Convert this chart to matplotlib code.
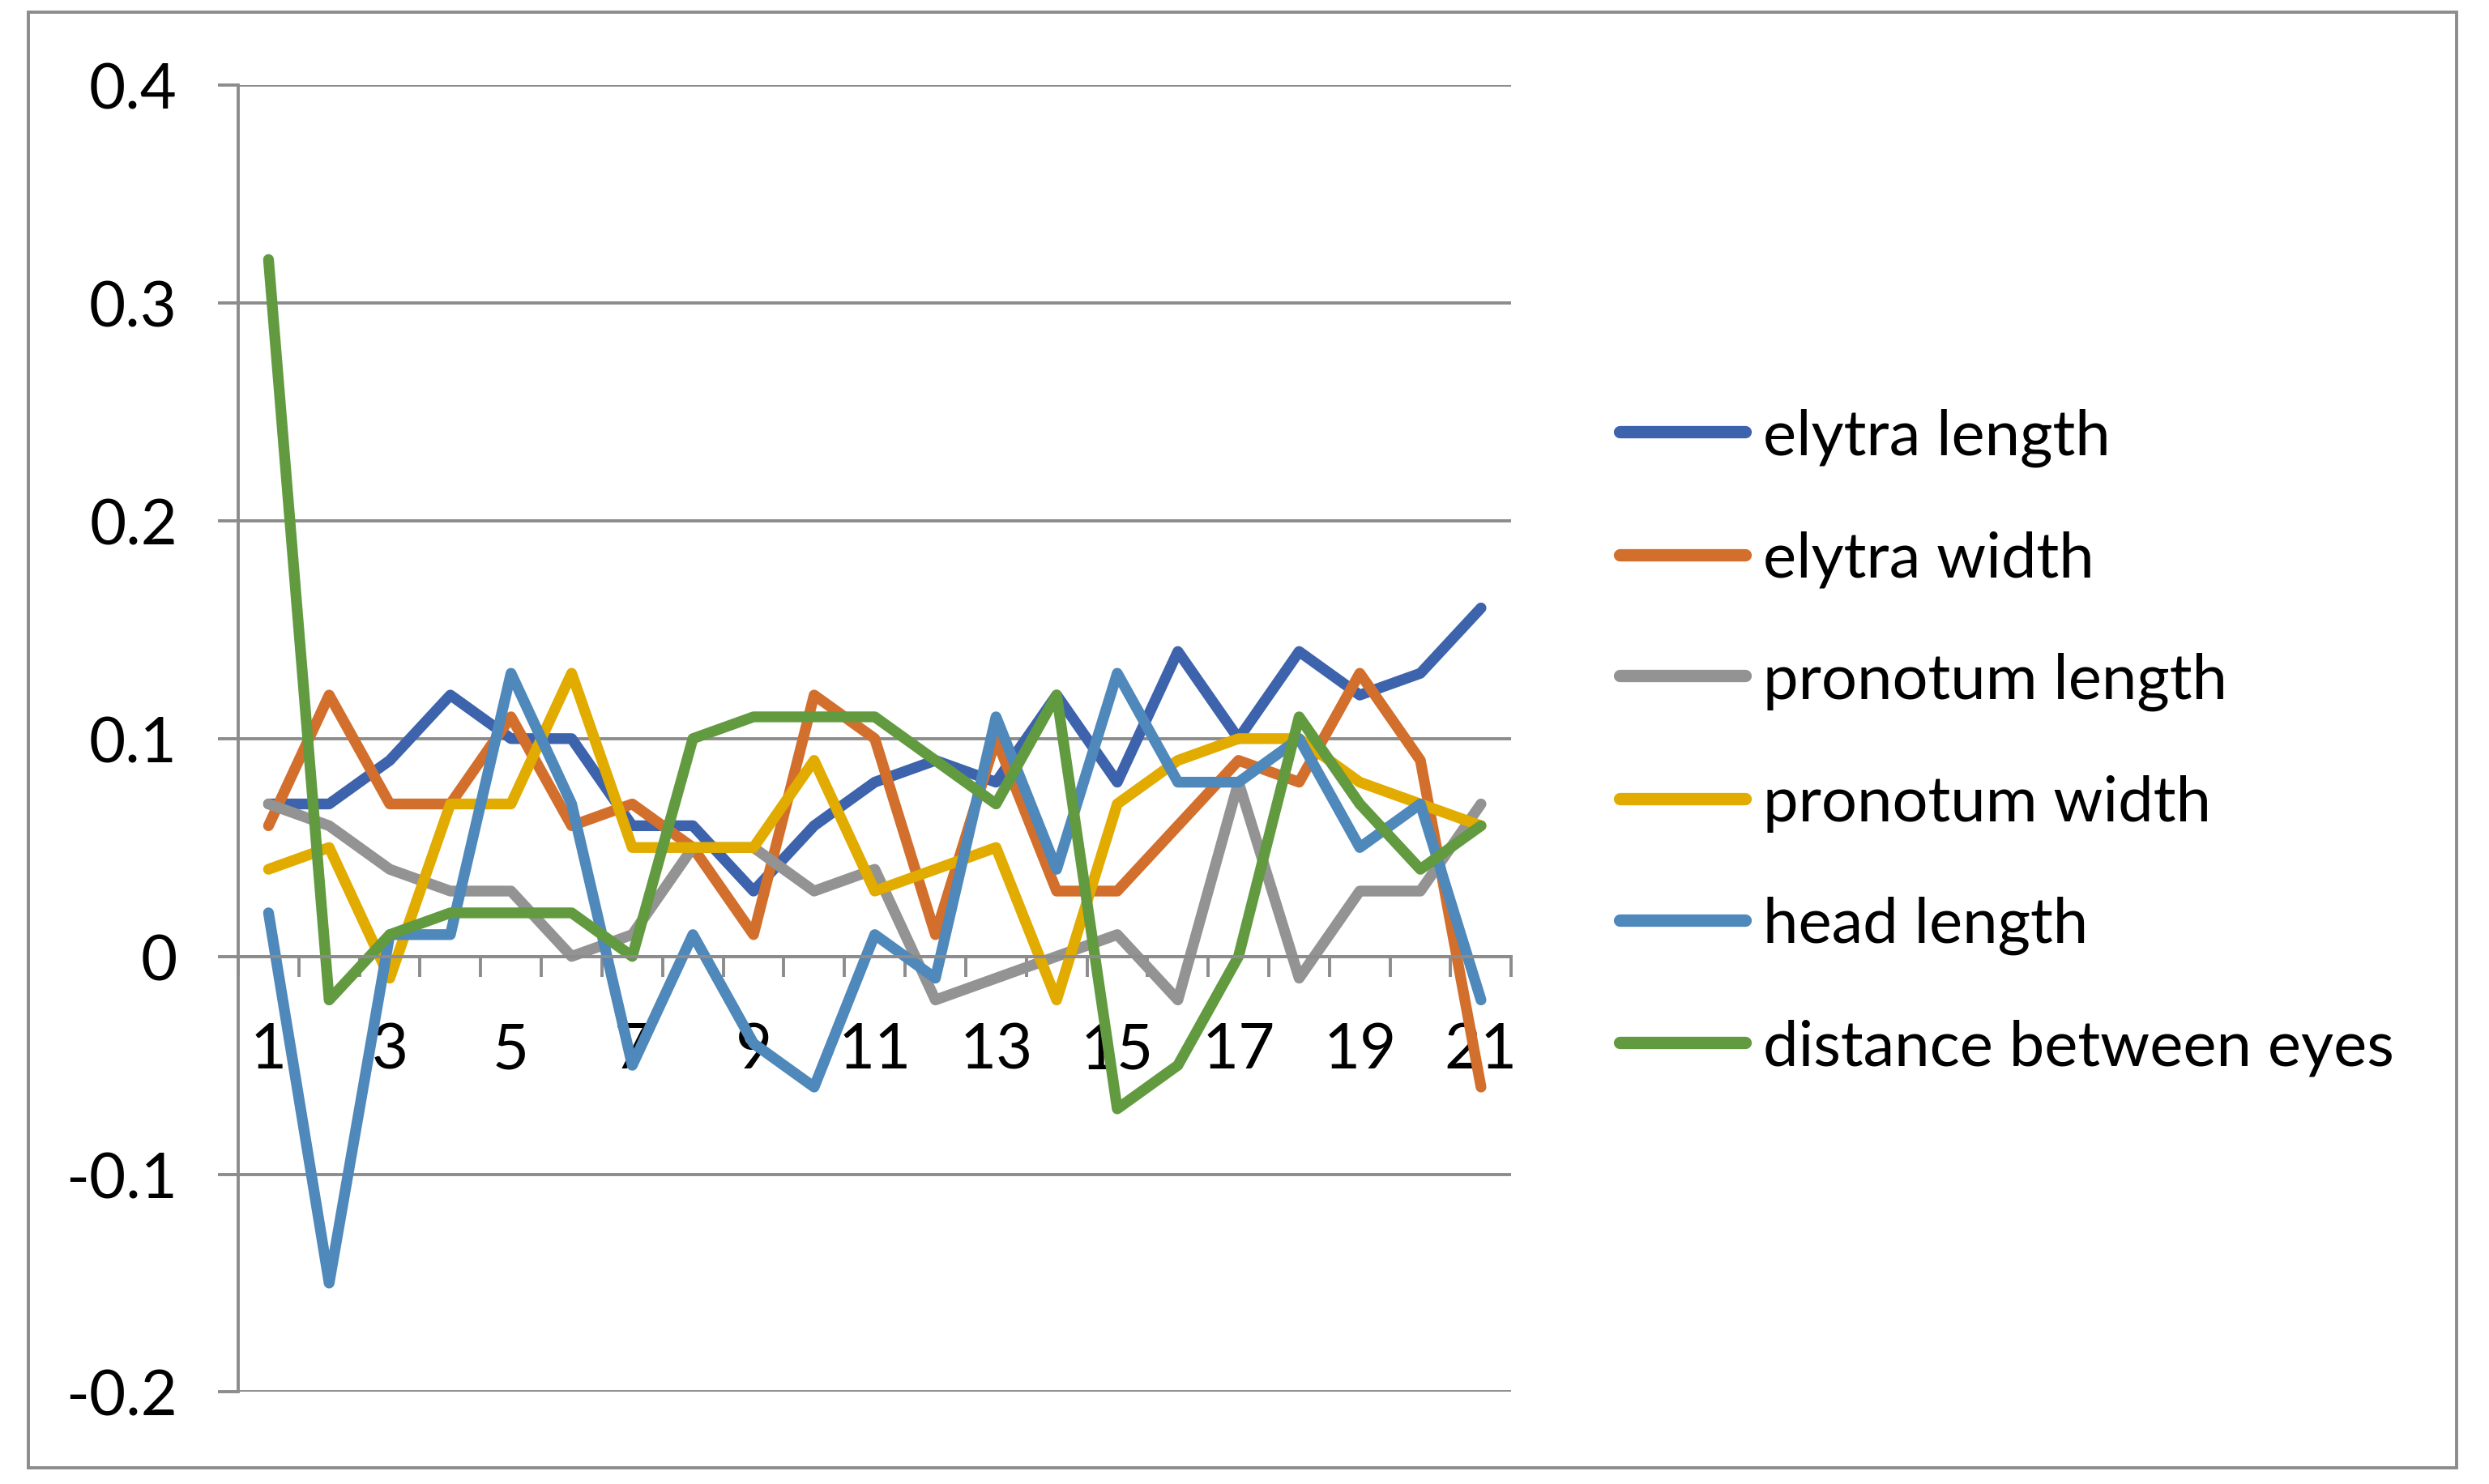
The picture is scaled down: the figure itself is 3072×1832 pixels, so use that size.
import matplotlib
matplotlib.use("Agg")
from matplotlib import pyplot as plt
from matplotlib.patches import Rectangle
from matplotlib.ticker import FuncFormatter

plt.rcParams["font.family"] = ["Lato", "DejaVu Sans"]
plt.rcParams["axes.unicode_minus"] = False

# Datos de la grafica
categorias = list(range(1, 22))
elytra_length = [0.07, 0.07, 0.09, 0.12, 0.10, 0.10, 0.06, 0.06, 0.03, 0.06, 0.08,
                 0.09, 0.08, 0.12, 0.08, 0.14, 0.10, 0.14, 0.12, 0.13, 0.16]
elytra_width = [0.06, 0.12, 0.07, 0.07, 0.11, 0.06, 0.07, 0.05, 0.01, 0.12, 0.10,
                0.01, 0.10, 0.03, 0.03, 0.06, 0.09, 0.08, 0.13, 0.09, -0.06]
pronotum_length = [0.07, 0.06, 0.04, 0.03, 0.03, 0.00, 0.01, 0.05, 0.05, 0.03, 0.04,
                   -0.02, -0.01, 0.00, 0.01, -0.02, 0.08, -0.01, 0.03, 0.03, 0.07]
pronotum_width = [0.04, 0.05, -0.01, 0.07, 0.07, 0.13, 0.05, 0.05, 0.05, 0.09, 0.03,
                  0.04, 0.05, -0.02, 0.07, 0.09, 0.10, 0.10, 0.08, 0.07, 0.06]
head_length = [0.02, -0.15, 0.01, 0.01, 0.13, 0.07, -0.05, 0.01, -0.04, -0.06, 0.01,
               -0.01, 0.11, 0.04, 0.13, 0.08, 0.08, 0.10, 0.05, 0.07, -0.02]
distance_eyes = [0.32, -0.02, 0.01, 0.02, 0.02, 0.02, 0.00, 0.10, 0.11, 0.11, 0.11,
                 0.09, 0.07, 0.12, -0.07, -0.05, 0.00, 0.11, 0.07, 0.04, 0.06]

series = [
    ("elytra length", elytra_length, "#3D63AC"),
    ("elytra width", elytra_width, "#D36F2D"),
    ("pronotum length", pronotum_length, "#939393"),
    ("pronotum width", pronotum_width, "#E1AB00"),
    ("head length", head_length, "#4F88BB"),
    ("distance between eyes", distance_eyes, "#629A40"),
]

gris = "#8C8C8C"
fig = plt.figure(figsize=(15.36, 9.165), dpi=200)
ax = fig.add_axes([0.0957, 0.062, 0.5115, 0.880])

for nombre, valores, color in series:
    ax.plot(categorias, valores, color=color, linewidth=4.8, label=nombre,
            solid_joinstyle="round", solid_capstyle="round")

ax.set_xlim(0.5, 21.5)
ax.set_ylim(-0.2, 0.4)
ax.set_yticks([-0.2, -0.1, 0, 0.1, 0.2, 0.3, 0.4])
ax.yaxis.set_major_formatter(FuncFormatter(lambda v, p: "0" if abs(v) < 1e-9 else f"{v:.1f}"))
ax.grid(axis="y", color=gris, linewidth=1.4)
ax.set_axisbelow(True)

for lado in ["top", "right"]:
    ax.spines[lado].set_visible(False)
ax.spines["left"].set_color(gris)
ax.spines["left"].set_linewidth(1.4)
ax.spines["bottom"].set_position(("data", 0))
ax.spines["bottom"].set_color(gris)
ax.spines["bottom"].set_linewidth(1.4)

# Marcas entre categorias, etiquetas en el centro
ax.set_xticks([c + 0.5 for c in range(0, 22)])
ax.set_xticklabels([])
ax.set_xticks(categorias[::2], minor=True)
ax.set_xticklabels([str(c) for c in categorias[::2]], minor=True)
ax.tick_params(axis="x", which="major", direction="out", length=9, width=1.4, color=gris)
ax.tick_params(axis="x", which="minor", length=0, pad=29, labelsize=28)
ax.tick_params(axis="y", direction="out", length=9, width=1.4, color=gris, pad=18, labelsize=28)

leg = ax.legend(loc="center left", bbox_to_anchor=(0.6506, 0.4998), bbox_transform=fig.transFigure,
                frameon=False, fontsize=28, handlelength=2.0, handletextpad=0.28,
                labelspacing=1.015, borderaxespad=0, borderpad=0)
for linea in leg.get_lines():
    linea.set_linewidth(5.5)

fig.patches.append(Rectangle((0.0115, 0.0107), 0.9755, 0.9808, transform=fig.transFigure,
                             fill=False, edgecolor=gris, linewidth=1.4))

fig.savefig("out.png", dpi=200)
